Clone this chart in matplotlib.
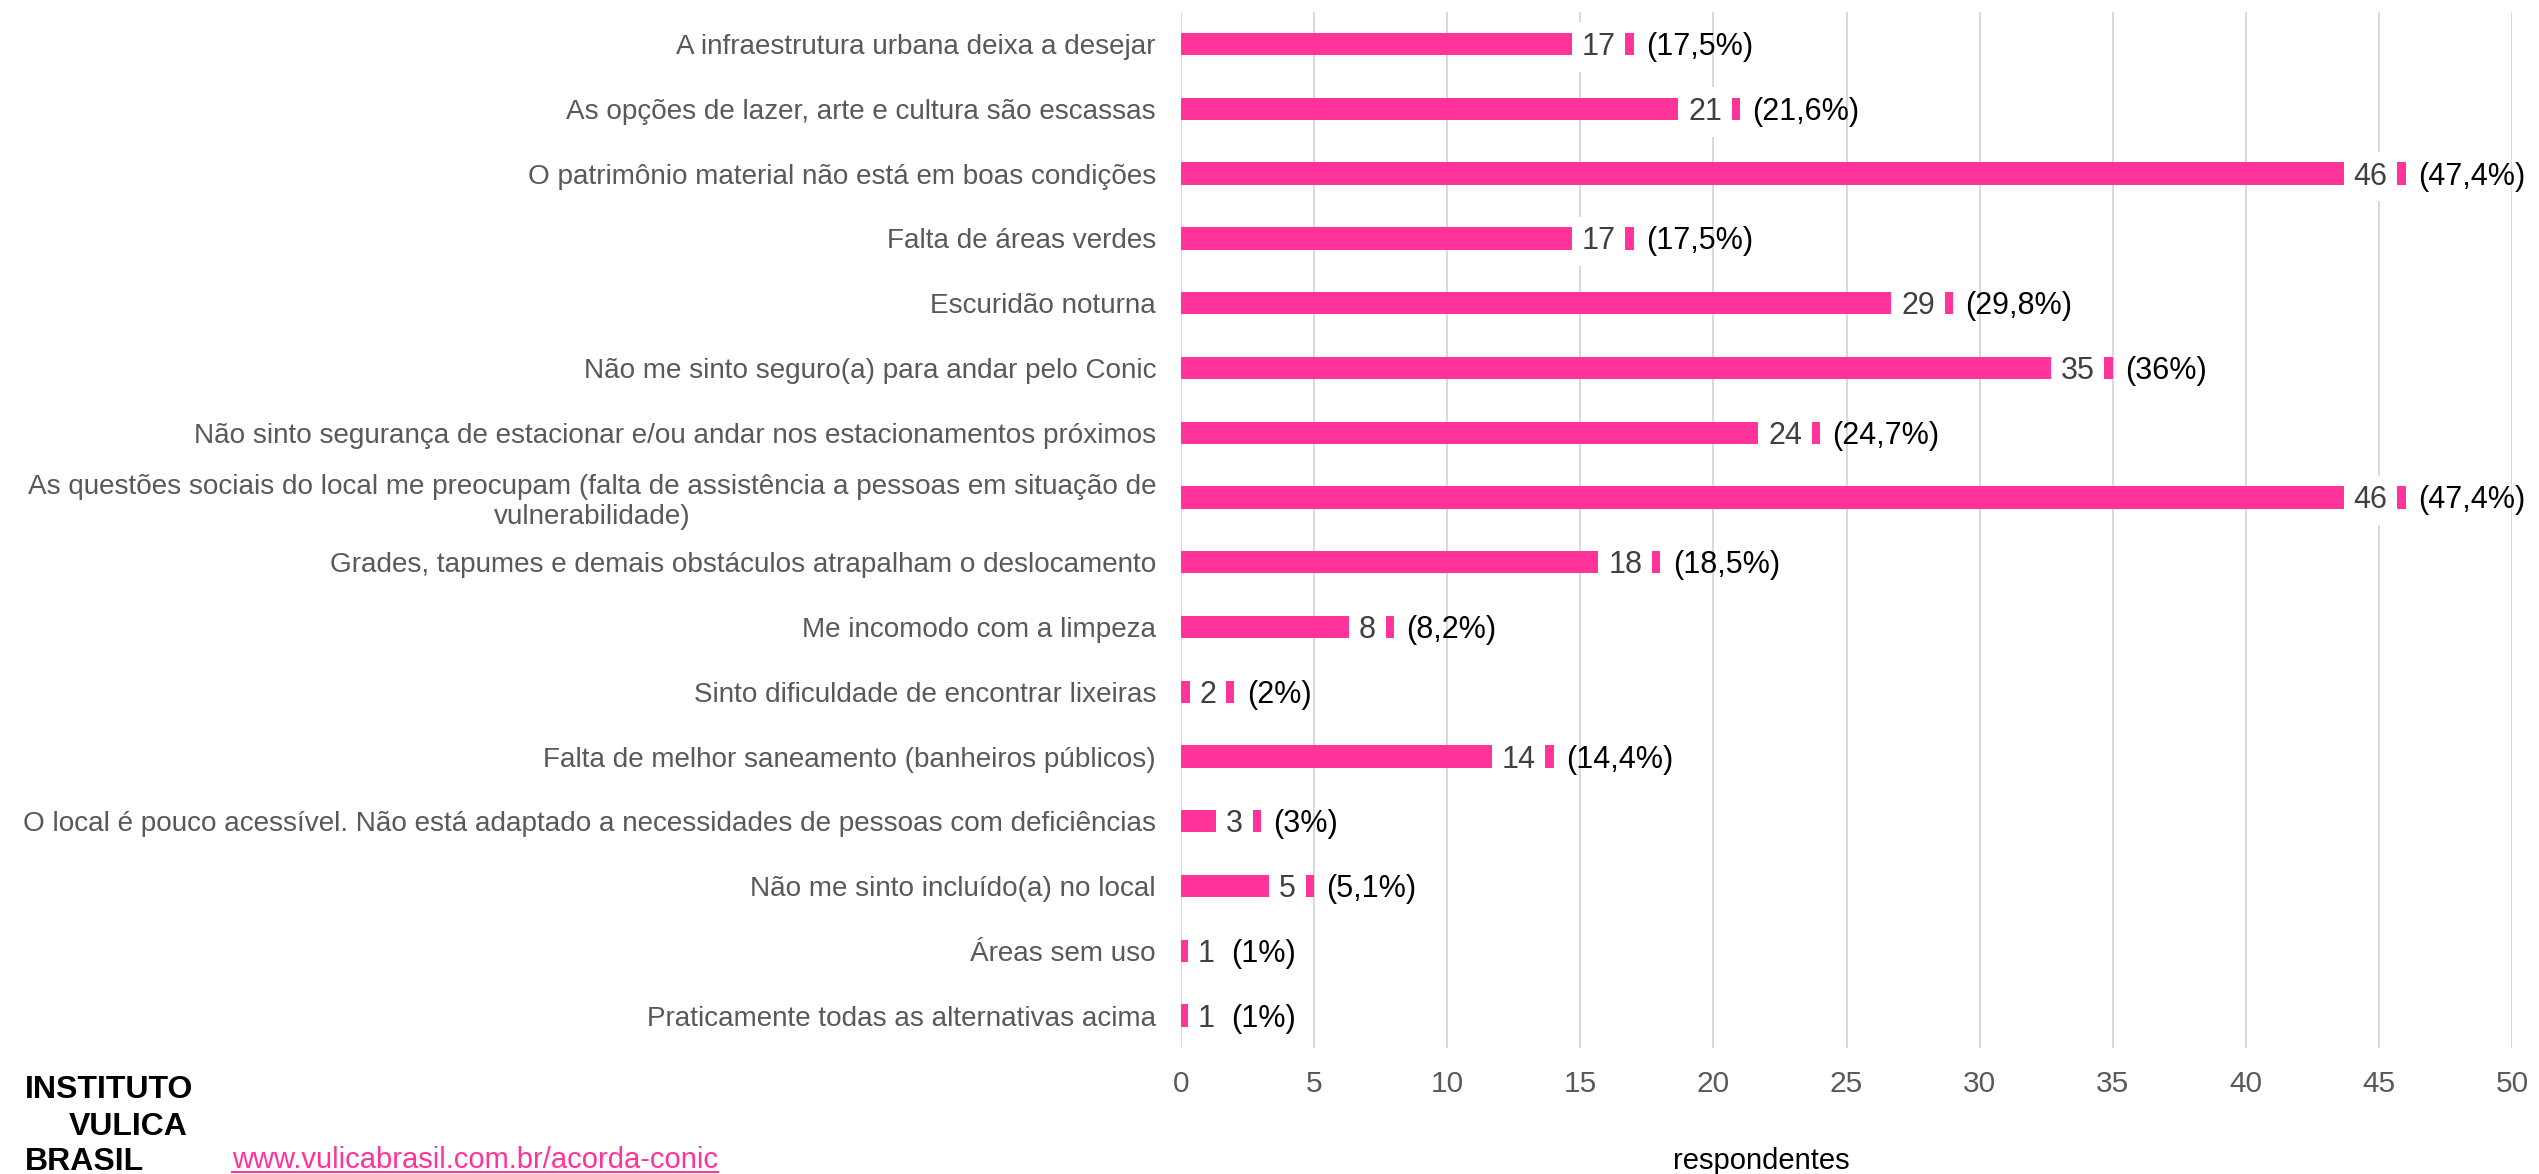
import matplotlib
matplotlib.use("Agg")
import matplotlib.pyplot as plt
from matplotlib.transforms import offset_copy
from matplotlib.lines import Line2D
import numpy as np

# ---------------- data ----------------
categories = [
    "A infraestrutura urbana deixa a desejar",
    "As opções de lazer, arte e cultura são escassas",
    "O patrimônio material não está em boas condições",
    "Falta de áreas verdes",
    "Escuridão noturna",
    "Não me sinto seguro(a) para andar pelo Conic",
    "Não sinto segurança de estacionar e/ou andar nos estacionamentos próximos",
    "As questões sociais do local me preocupam (falta de assistência a pessoas em situação de\nvulnerabilidade)",
    "Grades, tapumes e demais obstáculos atrapalham o deslocamento",
    "Me incomodo com a limpeza",
    "Sinto dificuldade de encontrar lixeiras",
    "Falta de melhor saneamento (banheiros públicos)",
    "O local é pouco acessível. Não está adaptado a necessidades de pessoas com deficiências",
    "Não me sinto incluído(a) no local",
    "Áreas sem uso",
    "Praticamente todas as alternativas acima",
]
values = [17, 21, 46, 17, 29, 35, 24, 46, 18, 8, 2, 14, 3, 5, 1, 1]
pct_labels = ["(17,5%)", "(21,6%)", "(47,4%)", "(17,5%)", "(29,8%)", "(36%)",
              "(24,7%)", "(47,4%)", "(18,5%)", "(8,2%)", "(2%)", "(14,4%)",
              "(3%)", "(5,1%)", "(1%)", "(1%)"]
x_ticks = list(range(0, 51, 5))
x_label = "respondentes"
logo_lines = ["INSTITUTO", "VULICA", "BRASIL"]
url_text = "www.vulicabrasil.com.br/acorda-conic"

# ---------------- style ----------------
PINK = "#FF3399"
GRAY = "#595959"
DARK = "#404040"
plt.rcParams["font.family"] = ["Liberation Sans", "DejaVu Sans"]

W_PX, H_PX = 2539, 1174
fig = plt.figure(figsize=(W_PX / 100, H_PX / 100), dpi=100)

def fx(px):
    return px / W_PX

def fy(py):
    return 1 - py / H_PX

ax = fig.add_axes([fx(1181), fy(1048), fx(2512) - fx(1181), fy(11.7) - fy(1048)])

y = np.arange(len(categories))
ax.barh(y, values, height=0.344, color=PINK, zorder=2)
ax.set_xlim(0, 50)
ax.set_ylim(len(categories) - 0.5, -0.5)
ax.set_xticks(x_ticks)
ax.set_xticklabels([str(t) for t in x_ticks])
ax.set_yticks(y)
ax.set_yticklabels(categories, fontsize=20.1, color=GRAY)
for lbl in ax.get_yticklabels():
    lbl.set_multialignment("center")
ax.tick_params(axis="y", length=0, pad=18)
ax.tick_params(axis="x", length=0, pad=16, labelsize=21.5, labelcolor=GRAY)
ax.grid(axis="x", color="#D9D9D9", linewidth=1.4, zorder=0)
ax.grid(axis="y", visible=False)
ax.set_axisbelow(True)
for s in ax.spines.values():
    s.set_visible(False)

fig.canvas.draw()
renderer = fig.canvas.get_renderer()
x0_px = ax.transData.transform((0, 0))[0]
YOFF = -11.0
LFS = 22
for i, (v, p) in enumerate(zip(values, pct_labels)):
    vx = ax.transData.transform((v, 0))[0] - x0_px
    t = ax.text(v, i, str(v), fontsize=LFS, color=DARK, ha="right", va="baseline",
                zorder=5,
                bbox=dict(boxstyle="square,pad=0.32", fc="white", ec="none"))
    w = t.get_window_extent(renderer).width
    off = -18.0
    if vx + off - w < 17:
        off = 17 + w - vx
    t.set_transform(offset_copy(ax.transData, x=off, y=YOFF, units="dots"))
    pct_off = max(12.5, off + 16)
    ax.text(v, i, p, fontsize=LFS, color="black", ha="left", va="baseline", zorder=5,
            transform=offset_copy(ax.transData, x=pct_off, y=YOFF, units="dots"))

# x axis title
fig.text(fx(1761), fy(1169), x_label, ha="center", va="baseline", fontsize=21, color="black")

# logo
fig.text(fx(25), fy(1098), logo_lines[0], ha="left", va="baseline", fontsize=23,
         color="black", fontweight="bold")
fig.text(fx(188), fy(1135), logo_lines[1], ha="right", va="baseline", fontsize=23,
         color="black", fontweight="bold")
fig.text(fx(25), fy(1170), logo_lines[2], ha="left", va="baseline", fontsize=23,
         color="black", fontweight="bold")

# url with underline
ut = fig.text(fx(232), fy(1168), url_text, ha="left", va="baseline", fontsize=21, color=PINK)
fig.canvas.draw()
bb = ut.get_window_extent(fig.canvas.get_renderer())
uy = fy(1171.7)
fig.add_artist(Line2D([bb.x0 / W_PX, bb.x1 / W_PX], [uy, uy], color=PINK, linewidth=1.5,
                      transform=fig.transFigure))

fig.savefig("out.png", dpi=100)
